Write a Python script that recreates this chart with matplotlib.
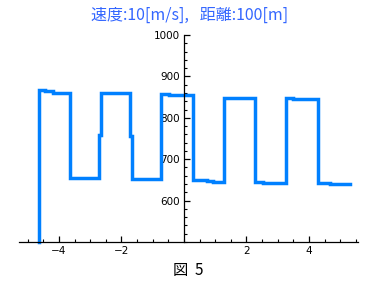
import matplotlib
matplotlib.use("Agg")
import matplotlib.pyplot as plt
from matplotlib.ticker import MultipleLocator, FixedLocator

# Step-like path
x_pts = [-4.63, -4.63, -4.45, -4.45, -4.20, -4.20, -3.65, -3.65, -2.71, -2.71, -2.67, -2.67,
         -1.73, -1.73, -1.67, -1.67, -0.74, -0.74, -0.47, -0.47, 0.30, 0.30, 0.75, 0.75,
         0.94, 0.94, 1.29, 1.29, 2.13, 2.13, 2.27, 2.27, 2.52, 2.52, 3.26, 3.26, 3.48, 3.48,
         4.30, 4.30, 4.67, 4.67, 5.31]
y_pts = [500, 867, 867, 864, 864, 861, 861, 655, 655, 758, 758, 859,
         859, 755, 755, 653, 653, 857, 857, 854, 854, 650, 650, 647,
         647, 645, 645, 849, 849, 847, 847, 646, 646, 643, 643, 848, 848, 845,
         845, 643, 643, 641, 641]

x_ticks = [-4, -2, 2, 4]
y_ticks = [600, 700, 800, 900, 1000]
title = "速度:10[m/s],   距離:100[m]"
caption = "図  5"

plt.rcParams['font.family'] = ['Noto Sans CJK JP', 'DejaVu Sans']

fig = plt.figure(figsize=(3.8, 2.9), dpi=100)
W, H = 380, 290
ax = fig.add_axes([19 / W, (H - 242) / H, (358 - 19) / W, (242 - 35) / H])
ax.set_xlim(-5.28, 5.57)
ax.set_ylim(500, 1000)

ax.plot(x_pts, y_pts, color='#0080ff', lw=2.5, solid_joinstyle='miter', clip_on=False)

for s in ['top', 'right']:
    ax.spines[s].set_visible(False)
ax.spines['left'].set_position(('data', 0))
ax.spines['left'].set_linewidth(0.9)
ax.spines['bottom'].set_linewidth(0.9)

ax.xaxis.set_major_locator(FixedLocator(x_ticks))
ax.xaxis.set_minor_locator(MultipleLocator(0.5))
ax.yaxis.set_major_locator(FixedLocator(y_ticks))
ax.yaxis.set_minor_locator(MultipleLocator(20))
ax.set_xticklabels([("−" if v < 0 else "") + str(abs(v)) for v in x_ticks])
ax.set_yticklabels([str(v) for v in y_ticks])
ax.tick_params(which='major', direction='in', length=4, width=0.9, labelsize=7.5, pad=3,
               colors='black')
ax.tick_params(which='minor', direction='in', length=2.2, width=0.8)
for lab in ax.get_xticklabels() + ax.get_yticklabels():
    lab.set_family('DejaVu Sans')

fig.text(190 / W, 1 - 15 / H, title, color='#3366ff', fontsize=11.5, ha='center', va='center')
fig.text(188 / W, 1 - 271 / H, caption, color='black', fontsize=11, ha='center', va='center')

fig.savefig('out.png', dpi=100)
